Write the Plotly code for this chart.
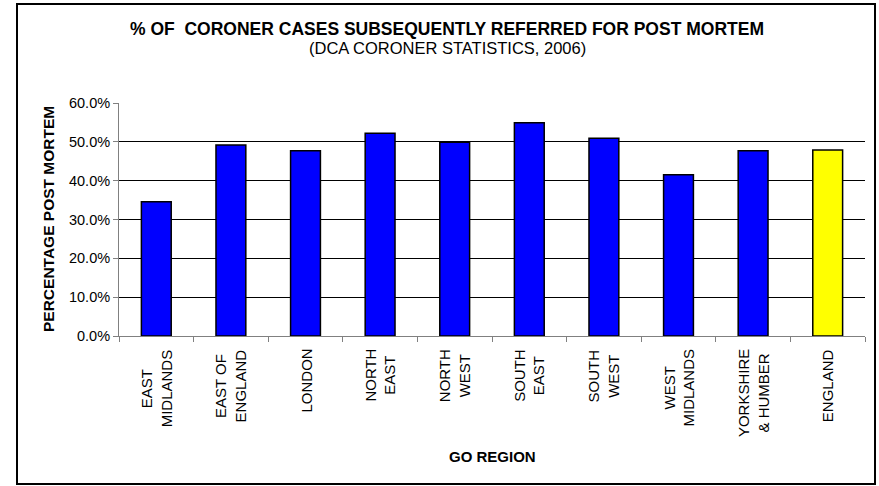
import plotly.graph_objects as go

# Data: share of coroner cases referred for post mortem, by GO region (2006)
regions = [
    "EAST MIDLANDS", "EAST OF ENGLAND", "LONDON", "NORTH EAST",
    "NORTH WEST", "SOUTH EAST", "SOUTH WEST", "WEST MIDLANDS",
    "YORKSHIRE & HUMBER", "ENGLAND",
]
region_labels = [
    "EAST<br>MIDLANDS", "EAST OF<br>ENGLAND", "LONDON", "NORTH<br>EAST",
    "NORTH<br>WEST", "SOUTH<br>EAST", "SOUTH<br>WEST", "WEST<br>MIDLANDS",
    "YORKSHIRE<br>&amp; HUMBER", "ENGLAND",
]
pct_post_mortem = [0.346, 0.492, 0.477, 0.522, 0.499, 0.549, 0.509, 0.415, 0.477, 0.479]
bar_colors = ["#0000FF"] * 9 + ["#FFFF00"]
y_ticks = [0.0, 0.1, 0.2, 0.3, 0.4, 0.5, 0.6]

W, H = 879, 486
ML, MR, MT, MB = 119, 14, 103, 150
PW, PH = W - ML - MR, H - MT - MB
FONT = "Liberation Sans, Arial, sans-serif"


def px_x(p):
    return (p - ML) / PW


def px_y(p):
    return (H - MB - p) / PH


fig = go.Figure(
    go.Bar(
        x=regions,
        y=pct_post_mortem,
        marker=dict(color=bar_colors, line=dict(color="#000000", width=1.5)),
    )
)

fig.update_layout(
    width=W,
    height=H,
    margin=dict(l=ML, r=MR, t=MT, b=MB),
    paper_bgcolor="#FFFFFF",
    plot_bgcolor="#FFFFFF",
    bargap=0.6,
    showlegend=False,
    font=dict(family=FONT, color="#000000"),
)

fig.update_xaxes(
    type="category",
    showticklabels=False,
    showline=True,
    linecolor="#808080",
    linewidth=1,
    ticks="outside",
    tickson="boundaries",
    ticklen=5,
    tickcolor="#808080",
    showgrid=False,
)

fig.update_yaxes(
    range=[0, 0.6],
    tickvals=y_ticks,
    tickformat=".1%",
    tickfont=dict(family=FONT, size=14.5, color="#000000"),
    showline=True,
    linecolor="#808080",
    linewidth=1,
    ticks="outside",
    ticklen=5,
    tickcolor="#808080",
    showgrid=True,
    gridcolor="#000000",
    gridwidth=1,
    zeroline=False,
)

# Outer chart frame
fig.add_shape(
    type="rect", xref="paper", yref="paper",
    x0=px_x(17), x1=px_x(875), y0=px_y(484), y1=px_y(4),
    line=dict(color="#000000", width=2), fillcolor="rgba(0,0,0,0)",
    layer="below",
)

# Category labels: rotated, lines centred, block top just under the axis
for cat, lab in zip(regions, region_labels):
    fig.add_annotation(
        text=lab, x=cat, xref="x", y=px_y(348), yref="paper",
        xanchor="center", yanchor="top", textangle=-90, align="center",
        showarrow=False, borderpad=0,
        font=dict(family=FONT, size=15, color="#000000"),
    )

annotations = [
    dict(text="<b>% OF  CORONER CASES SUBSEQUENTLY REFERRED FOR POST MORTEM</b>",
         x=px_x(447), y=px_y(29), size=17.5),
    dict(text="(DCA CORONER STATISTICS, 2006)", x=px_x(447), y=px_y(48), size=16.5),
    dict(text="<b>GO REGION</b>", x=px_x(492), y=px_y(456), size=15),
]
for a in annotations:
    fig.add_annotation(
        text=a["text"], x=a["x"], y=a["y"], xref="paper", yref="paper",
        xanchor="center", yanchor="middle", showarrow=False,
        font=dict(family=FONT, size=a["size"], color="#000000"),
    )

fig.add_annotation(
    text="<b>PERCENTAGE POST MORTEM</b>", x=px_x(48), y=px_y(219),
    xref="paper", yref="paper", xanchor="center", yanchor="middle",
    textangle=-90, showarrow=False,
    font=dict(family=FONT, size=15.5, color="#000000"),
)

fig.write_html("out.html")
